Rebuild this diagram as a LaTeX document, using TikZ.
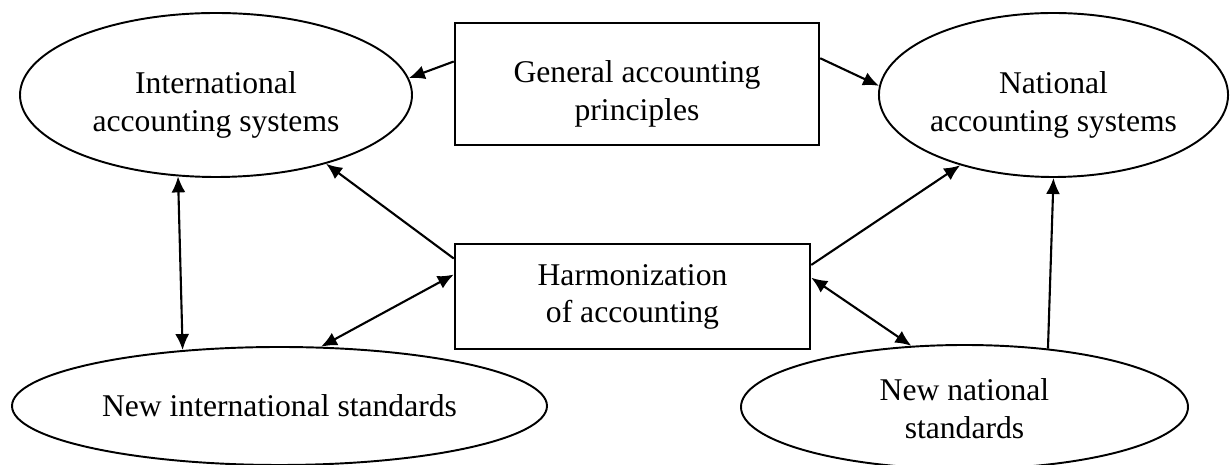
\documentclass[tikz,border=0pt]{standalone}
\usepackage{fontspec}
\setmainfont{Liberation Serif}
\usetikzlibrary{shapes.geometric, arrows.meta}
\newcommand{\lines}[2][0pt]{\raisebox{-#1}[\height][\depth]{\begin{tabular}{@{}c@{}}#2\end{tabular}}}
\tikzset{
    ->, % all connectors are directed
    every node/.style={font=\fontsize{18}{21.5}\selectfont, inner sep=0pt},
    oval/.style={ellipse, draw, line width=1.1pt}, % the ellipses
    box/.style={rectangle, draw, line width=1.4pt} % the rectangles
}

\begin{document}
\begin{tikzpicture}[>={Latex[length=3.2mm, width=2.8mm]}, line width=1.2pt]
		\useasboundingbox (0,0) rectangle (24.64,9.3);
		% Nodes
		\node[oval, minimum width=7.84cm, minimum height=3.28cm] (intl) at (4.32,7.4) {\lines[5.5pt]{International\\accounting systems}};
		\node[box, minimum width=7.28cm, minimum height=2.44cm] (general) at (12.74,7.62) {\lines[5.5pt]{General accounting\\principles}};
		\node[oval, minimum width=6.86cm, minimum height=3.28cm] (natl) at (21.07,7.4) {\lines[5.5pt]{National\\accounting systems}};
		\node[box, minimum width=7.1cm, minimum height=2.1cm] (harm) at (12.65,3.37) {\lines{Harmonization\\of accounting}};
		\node[oval, minimum width=10.7cm, minimum height=2.36cm] (newintl) at (5.59,1.18) {\lines[1.5pt]{New international standards}};
		\node[oval, minimum width=8.94cm, minimum height=2.48cm] (newnatl) at (19.29,1.16) {\lines[2.8pt]{New national\\standards}};

		% Connectors
		\draw (general.173.7) -- (intl.5);
		\draw (general.8.7) -- (natl.177);
		\draw (harm.168.5) -- (intl.-32.2);
		\draw (harm.10.7) -- (natl.-143.7);
		\draw[<->] (harm.173.7) -- (newintl.55.4);
		\draw[<->] (harm.6.3) -- (newnatl.131.8);
		\draw[<->] (intl.-115.7) -- (newintl.150.7);
		\draw (newnatl.35.9) -- (natl.south);
	\end{tikzpicture}
\end{document}
